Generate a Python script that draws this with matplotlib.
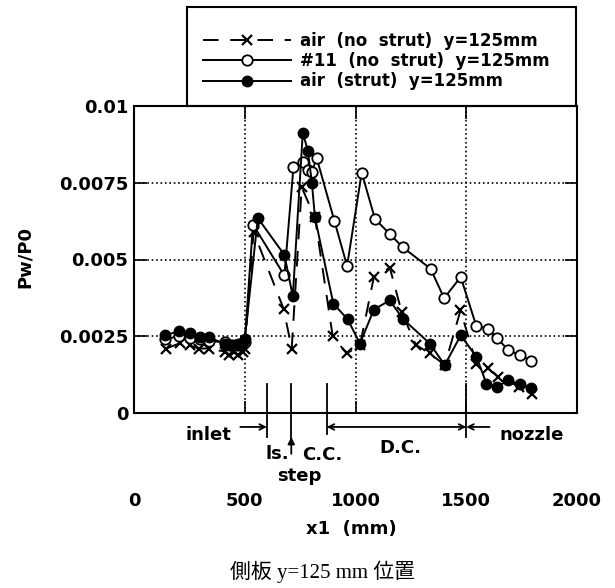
import matplotlib
matplotlib.use('Agg')
import matplotlib.pyplot as plt
from matplotlib.patches import Rectangle

# ---- data ----
x_air_nostrut = [146, 209, 251, 292, 337, 410, 430, 450, 470, 490, 500, 540, 675, 712, 757, 817,
                 897, 960, 1020, 1083, 1155, 1208, 1272, 1336, 1403, 1474, 1546, 1598, 1644, 1740, 1797]
y_air_nostrut = [0.0021, 0.00228, 0.00221, 0.0021, 0.0021, 0.0020, 0.0019, 0.0020, 0.0019, 0.0020, 0.0021,
                 0.0059, 0.0034, 0.0021, 0.00735, 0.00637, 0.0025, 0.00194, 0.0022, 0.00443, 0.00473,
                 0.0033, 0.00222, 0.00194, 0.00156, 0.00334, 0.00161, 0.00145, 0.00118, 0.00085, 0.00062]

x_11_nostrut = [141, 201, 251, 299, 340, 410, 440, 470, 500, 537, 679, 720, 762, 785, 803, 825,
                905, 962, 1028, 1088, 1155, 1213, 1339, 1400, 1475, 1546, 1596, 1641, 1689, 1741, 1794]
y_11_nostrut = [0.0024, 0.0025, 0.00245, 0.0024, 0.00235, 0.0023, 0.0022, 0.0022, 0.0023, 0.00614,
                0.00448, 0.00802, 0.00819, 0.0079, 0.00786, 0.0083, 0.00625, 0.00479, 0.00783, 0.00632,
                0.00583, 0.0054, 0.0047, 0.00374, 0.00443, 0.00282, 0.00275, 0.00243, 0.00205, 0.00188, 0.0017]

x_air_strut = [141, 201, 251, 299, 340, 410, 430, 450, 470, 490, 500, 559, 679, 717, 762, 785, 803, 817,
               900, 965, 1020, 1083, 1155, 1213, 1336, 1403, 1475, 1546, 1591, 1641, 1689, 1741, 1794]
y_air_strut = [0.00253, 0.00266, 0.00259, 0.00248, 0.00246, 0.00225, 0.0022, 0.0022, 0.00225, 0.0023, 0.0024,
               0.00635, 0.00515, 0.0038, 0.00913, 0.00854, 0.0075, 0.00637, 0.00356, 0.00305, 0.00226,
               0.00337, 0.00367, 0.00307, 0.00226, 0.00156, 0.00253, 0.00183, 0.00096, 0.00085, 0.00107,
               0.00093, 0.0008]

labels = ['air  (no  strut)  y=125mm', '#11  (no  strut)  y=125mm', 'air  (strut)  y=125mm']
x_ticks = [0, 500, 1000, 1500, 2000]
y_ticks = [0, 0.0025, 0.005, 0.0075, 0.01]
y_ticklabels = ['0', '0.0025', '0.005', '0.0075', '0.01']

# section boundaries / labels
bound_ls = 600
bound_step = 710
bound_cc = 870
bound_nozzle = 1500

W, H = 615, 588
fig = plt.figure(figsize=(W / 100, H / 100), dpi=100)
ax = fig.add_axes([134 / W, 1 - 413 / H, (577 - 134) / W, (413 - 106) / H])

FONT = 'DejaVu Sans'
lw = 1.4

l1, = ax.plot(x_air_nostrut, y_air_nostrut, color='k', lw=lw, linestyle=(0, (8, 6)),
              marker='x', markersize=7, markeredgewidth=1.6, zorder=3)
l2, = ax.plot(x_11_nostrut, y_11_nostrut, color='k', lw=lw, marker='o', markersize=7.5,
              markerfacecolor='white', markeredgecolor='k', markeredgewidth=1.3, zorder=4)
l3, = ax.plot(x_air_strut, y_air_strut, color='k', lw=lw, marker='o', markersize=7.5,
              markerfacecolor='k', markeredgecolor='k', zorder=5)

ax.set_xlim(0, 2000)
ax.set_ylim(0, 0.01)
ax.set_xticks(x_ticks)
ax.set_xticklabels([str(v) for v in x_ticks], fontfamily=FONT, fontweight='bold', fontsize=13)
ax.set_yticks(y_ticks)
ax.set_yticklabels(y_ticklabels, fontfamily=FONT, fontweight='bold', fontsize=13)
ax.tick_params(axis='x', direction='in', length=9, width=1.2, pad=57, top=True)
ax.tick_params(axis='y', direction='in', length=9, width=1.2, pad=4, right=True)
ax.grid(True, color='k', linestyle=':', linewidth=1.2)
for s in ax.spines.values():
    s.set_linewidth(1.5)

# ---- annotations below the axes ----
def ypix(p):
    return (413 - p) / 30800.0

akw = dict(color='k', lw=1.3, clip_on=False, zorder=6)
for xb, bottom in [(bound_ls, 437), (bound_cc, 434), (bound_nozzle, 437)]:
    ax.plot([xb, xb], [ypix(384), ypix(bottom)], **akw)
ax.plot([bound_step, bound_step], [ypix(384), ypix(440)], **akw)
ax.annotate('', xy=(bound_step, ypix(437)), xytext=(bound_step, ypix(454)),
            arrowprops=dict(arrowstyle='-|>', lw=1.3, color='k', shrinkA=0, shrinkB=0,
                            mutation_scale=10), annotation_clip=False)

ya = ypix(427)
ax.annotate('', xy=(bound_ls, ya), xytext=(480, ya),
            arrowprops=dict(arrowstyle='->', lw=1.3, color='k', shrinkA=0, shrinkB=0),
            annotation_clip=False)
ax.annotate('', xy=(bound_nozzle, ya), xytext=(bound_cc, ya),
            arrowprops=dict(arrowstyle='<->', lw=1.3, color='k', shrinkA=0, shrinkB=0),
            annotation_clip=False)
ax.annotate('', xy=(bound_nozzle, ya), xytext=(1605, ya),
            arrowprops=dict(arrowstyle='->', lw=1.3, color='k', shrinkA=0, shrinkB=0),
            annotation_clip=False)

tkw = dict(fontfamily=FONT, fontweight='bold', fontsize=13, ha='center', va='center', clip_on=False)
ax.text(336, ypix(435), 'inlet', **tkw)
ax.text(1794, ypix(435), 'nozzle', **tkw)
ax.text(1204, ypix(448), 'D.C.', **tkw)
ax.text(851, ypix(455), 'C.C.', **tkw)
ax.text(645, ypix(454), 'ls.', **tkw)
ax.text(746, ypix(476), 'step', **tkw)

# axis labels
fig.text(351 / W, 1 - 529 / H, 'x1  (mm)', fontfamily=FONT, fontweight='bold', fontsize=13,
         ha='center', va='center')
fig.text(25 / W, 1 - 257 / H, 'Pw/P0', fontfamily=FONT, fontweight='bold', fontsize=13,
         ha='center', va='center', rotation=90)
fig.text(323 / W, 1 - 572 / H, '側板 y=125 mm 位置', family=['Liberation Serif', 'Noto Sans CJK JP'],
         fontsize=15, ha='center', va='center')

# legend box
fig.patches.append(Rectangle((187 / W, 1 - 106 / H), (576 - 187) / W, (106 - 7) / H,
                             transform=fig.transFigure, fill=False, edgecolor='k', lw=1.5, zorder=1))
leg = fig.legend([l1, l2, l3], labels, loc='center left',
                 bbox_to_anchor=(203 / W, 1 - 61 / H), bbox_transform=fig.transFigure,
                 frameon=False, prop=dict(family=FONT, weight='bold', size=12),
                 handlelength=5.3, handletextpad=0.5, labelspacing=0.15, borderpad=0,
                 borderaxespad=0)

fig.savefig('out.png', dpi=100)
